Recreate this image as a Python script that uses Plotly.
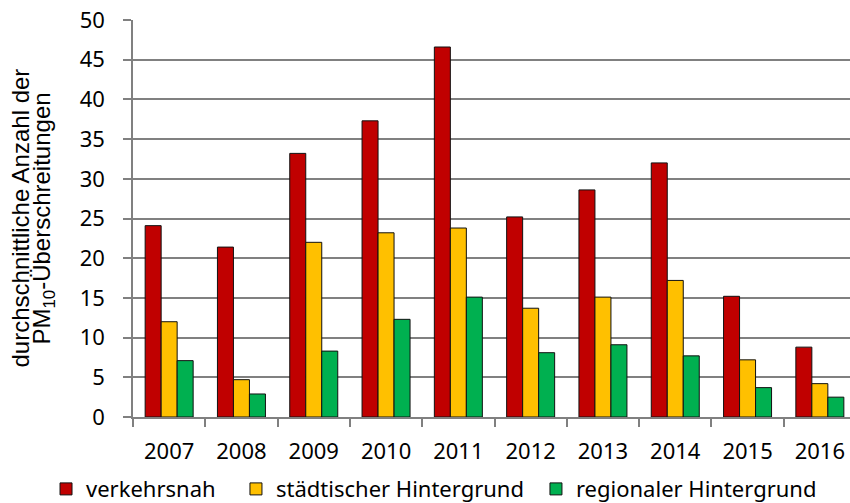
import plotly.graph_objects as go

# Jahre und durchschnittliche Anzahl der PM10-Überschreitungen je Stationstyp
years = ["2007", "2008", "2009", "2010", "2011", "2012", "2013", "2014", "2015", "2016"]
verkehrsnah = [24.1, 21.4, 33.2, 37.3, 46.6, 25.2, 28.6, 32.0, 15.2, 8.8]
staedtisch = [12.0, 4.7, 22.0, 23.2, 23.8, 13.7, 15.1, 17.2, 7.2, 4.2]
regional = [7.1, 2.9, 8.3, 12.3, 15.1, 8.1, 9.1, 7.7, 3.7, 2.5]

series_names = ["verkehrsnah", "städtischer Hintergrund", "regionaler Hintergrund"]
series_colors = ["#C00000", "#FFC000", "#00B050"]
legend_ids = ["legend", "legend2", "legend3"]
legend_x = [-0.1213, 0.1436, 0.562]
y_ticks = [0, 5, 10, 15, 20, 25, 30, 35, 40, 45, 50]

TICK_FONT = dict(family="Noto Sans, Open Sans, sans-serif", size=22, color="#000000")
TITLE_FONT = dict(family="Liberation Sans, Arial, sans-serif", size=24, color="#000000")
AXIS_GREY = "#808080"

fig = go.Figure()
for name, values, color, lg in zip(series_names, [verkehrsnah, staedtisch, regional],
                                   series_colors, legend_ids):
    fig.add_trace(go.Bar(
        x=years,
        y=values,
        name=name,
        legend=lg,
        marker=dict(color=color, line=dict(color="#111111", width=1)),
        hoverinfo="skip",
    ))

legend_common = dict(
    orientation="h",
    xanchor="left",
    y=-0.2345,
    yanchor="bottom",
    font=TICK_FONT,
    itemwidth=30,
    bgcolor="rgba(0,0,0,0)",
)

fig.update_layout(
    width=850,
    height=503,
    margin=dict(l=133, r=0, t=20, b=86, autoexpand=False),
    paper_bgcolor="white",
    plot_bgcolor="white",
    barmode="group",
    bargap=0.336,
    bargroupgap=0,
    showlegend=True,
    legend=dict(x=legend_x[0], **legend_common),
    legend2=dict(x=legend_x[1], **legend_common),
    legend3=dict(x=legend_x[2], **legend_common),
    xaxis=dict(
        type="category",
        range=[-0.5, 9.417],
        automargin=False,
        showgrid=False,
        showline=True,
        linecolor=AXIS_GREY,
        linewidth=1.5,
        ticks="outside",
        tickson="boundaries",
        ticklen=8,
        tickcolor=AXIS_GREY,
        tickwidth=1.5,
        tickfont=TICK_FONT,
        ticklabelstandoff=14,
    ),
    yaxis=dict(
        range=[0, 50],
        tickvals=y_ticks,
        automargin=False,
        showgrid=True,
        gridcolor=AXIS_GREY,
        gridwidth=1.5,
        zeroline=False,
        showline=True,
        linecolor=AXIS_GREY,
        linewidth=1.5,
        ticks="outside",
        ticklen=8,
        tickcolor=AXIS_GREY,
        tickwidth=1.5,
        tickfont=TICK_FONT,
        ticklabelstandoff=14,
    ),
)

# Zweizeiliger Achsentitel als gedrehte Annotationen
fig.add_annotation(
    text="durchschnittliche Anzahl der",
    xref="paper", yref="paper", x=0, y=0.5,
    xanchor="center", yanchor="middle",
    xshift=-113, textangle=-90,
    showarrow=False, font=TITLE_FONT,
)
fig.add_annotation(
    text="PM<sub>10</sub>-Überschreitungen",
    xref="paper", yref="paper", x=0, y=0.5,
    xanchor="center", yanchor="middle",
    xshift=-90, textangle=-90,
    showarrow=False, font=TITLE_FONT,
)

fig.write_html("out.html")
